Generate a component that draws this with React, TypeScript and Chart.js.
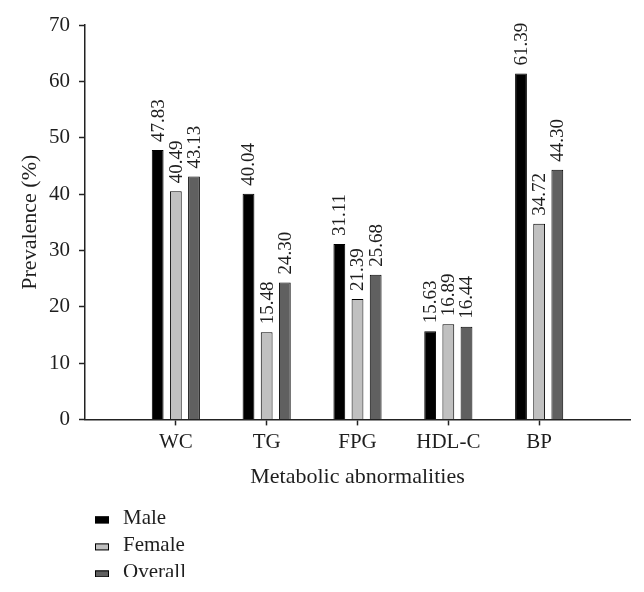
import React, { useEffect, useRef } from "react";
import { Chart, registerables } from "chart.js";

Chart.register(...registerables);

const categories = ["WC", "TG", "FPG", "HDL-C", "BP"];
const maleValues = [47.83, 40.04, 31.11, 15.63, 61.39];
const femaleValues = [40.49, 15.48, 21.39, 16.89, 34.72];
const overallValues = [43.13, 24.3, 25.68, 16.44, 44.3];
const seriesNames = ["Male", "Female", "Overall"];
const seriesColors = ["#000000", "#c0c0c0", "#606060"];
const yTicks = [0, 10, 20, 30, 40, 50, 60, 70];

const FONT = "'Liberation Serif', 'Times New Roman', serif";
const INK = "#1e1e1e";

const pad = (arr: number[]) => [null, ...arr, null];

const valueLabels = {
  id: "valueLabels",
  afterDatasetsDraw(chart: any) {
    const ctx = chart.ctx;
    ctx.save();
    ctx.font = `19px ${FONT}`;
    ctx.fillStyle = INK;
    ctx.textAlign = "left";
    ctx.textBaseline = "middle";
    chart.data.datasets.forEach((ds: any, i: number) => {
      const meta = chart.getDatasetMeta(i);
      meta.data.forEach((el: any, j: number) => {
        const v = ds.data[j];
        if (v === null || v === undefined) return;
        ctx.save();
        ctx.translate(el.x, el.y - 8);
        ctx.rotate(-Math.PI / 2);
        ctx.fillText(Number(v).toFixed(2), 0, 1);
        ctx.restore();
      });
    });
    ctx.restore();
  },
};

const sideLegend = {
  id: "sideLegend",
  afterDraw(chart: any) {
    const ctx = chart.ctx;
    const { left, bottom } = chart.chartArea;
    ctx.save();
    ctx.font = `21px ${FONT}`;
    ctx.textAlign = "left";
    ctx.textBaseline = "alphabetic";
    seriesNames.forEach((name, i) => {
      const base = bottom + 105 + i * 27;
      ctx.fillStyle = seriesColors[i];
      ctx.fillRect(left + 10, base - 8, 14, 7);
      ctx.strokeStyle = "#000";
      ctx.lineWidth = 1;
      ctx.strokeRect(left + 10.5, base - 7.5, 13, 6);
      ctx.fillStyle = INK;
      ctx.fillText(name, left + 38, base);
    });
    ctx.restore();
  },
};

export default function App() {
  const ref = useRef<HTMLCanvasElement | null>(null);
  useEffect(() => {
    if (!ref.current) return;
    const chart = new Chart(ref.current, {
      type: "bar",
      data: {
        labels: ["", ...categories, ""],
        datasets: [
          { label: seriesNames[0], data: pad(maleValues), backgroundColor: seriesColors[0] },
          { label: seriesNames[1], data: pad(femaleValues), backgroundColor: seriesColors[1] },
          { label: seriesNames[2], data: pad(overallValues), backgroundColor: seriesColors[2] },
        ].map((d) => ({
          ...d,
          borderColor: "#000",
          borderWidth: 1,
          categoryPercentage: 0.6,
          barPercentage: 0.65,
        })) as any,
      },
      options: {
        responsive: false,
        animation: false,
        layout: { padding: { top: 17, right: 6, bottom: 87, left: 0 } },
        plugins: { legend: { display: false }, tooltip: { enabled: false } },
        scales: {
          x: {
            offset: false,
            grid: {
              offset: false,
              drawOnChartArea: false,
              drawTicks: true,
              tickLength: 6,
              tickColor: (c: any) =>
                c.index === 0 || c.index === categories.length + 1 ? "rgba(0,0,0,0)" : "#222",
              tickWidth: 1.5,
            },
            border: { display: true, color: "#222", width: 1.5 },
            ticks: { color: INK, font: { family: FONT, size: 21 }, padding: 4, autoSkip: false, maxRotation: 0 },
            title: {
              display: true,
              text: "Metabolic abnormalities",
              color: INK,
              font: { family: FONT, size: 22 },
              padding: { top: 5, bottom: 0 },
            },
          },
          y: {
            min: 0,
            max: 70,
            afterBuildTicks: (s: any) => {
              s.ticks = yTicks.map((v) => ({ value: v }));
            },
            afterFit: (s: any) => {
              s.width = 77;
              s.paddingTop = 0;
              s.paddingBottom = 0;
            },
            grid: { drawOnChartArea: false, drawTicks: true, tickLength: 6, tickColor: "#222", tickWidth: 1.5 },
            border: { display: true, color: "#222", width: 1.5 },
            ticks: { color: INK, font: { family: FONT, size: 21 }, padding: 9 },
            title: {
              display: true,
              text: "Prevalence (%)",
              color: INK,
              font: { family: FONT, size: 22 },
              padding: { top: 9, bottom: 0 },
            },
          },
        },
      },
      plugins: [valueLabels, sideLegend],
    });
    return () => chart.destroy();
  }, []);
  return <canvas ref={ref} width={628} height={569} style={{ display: "block" }} />;
}
